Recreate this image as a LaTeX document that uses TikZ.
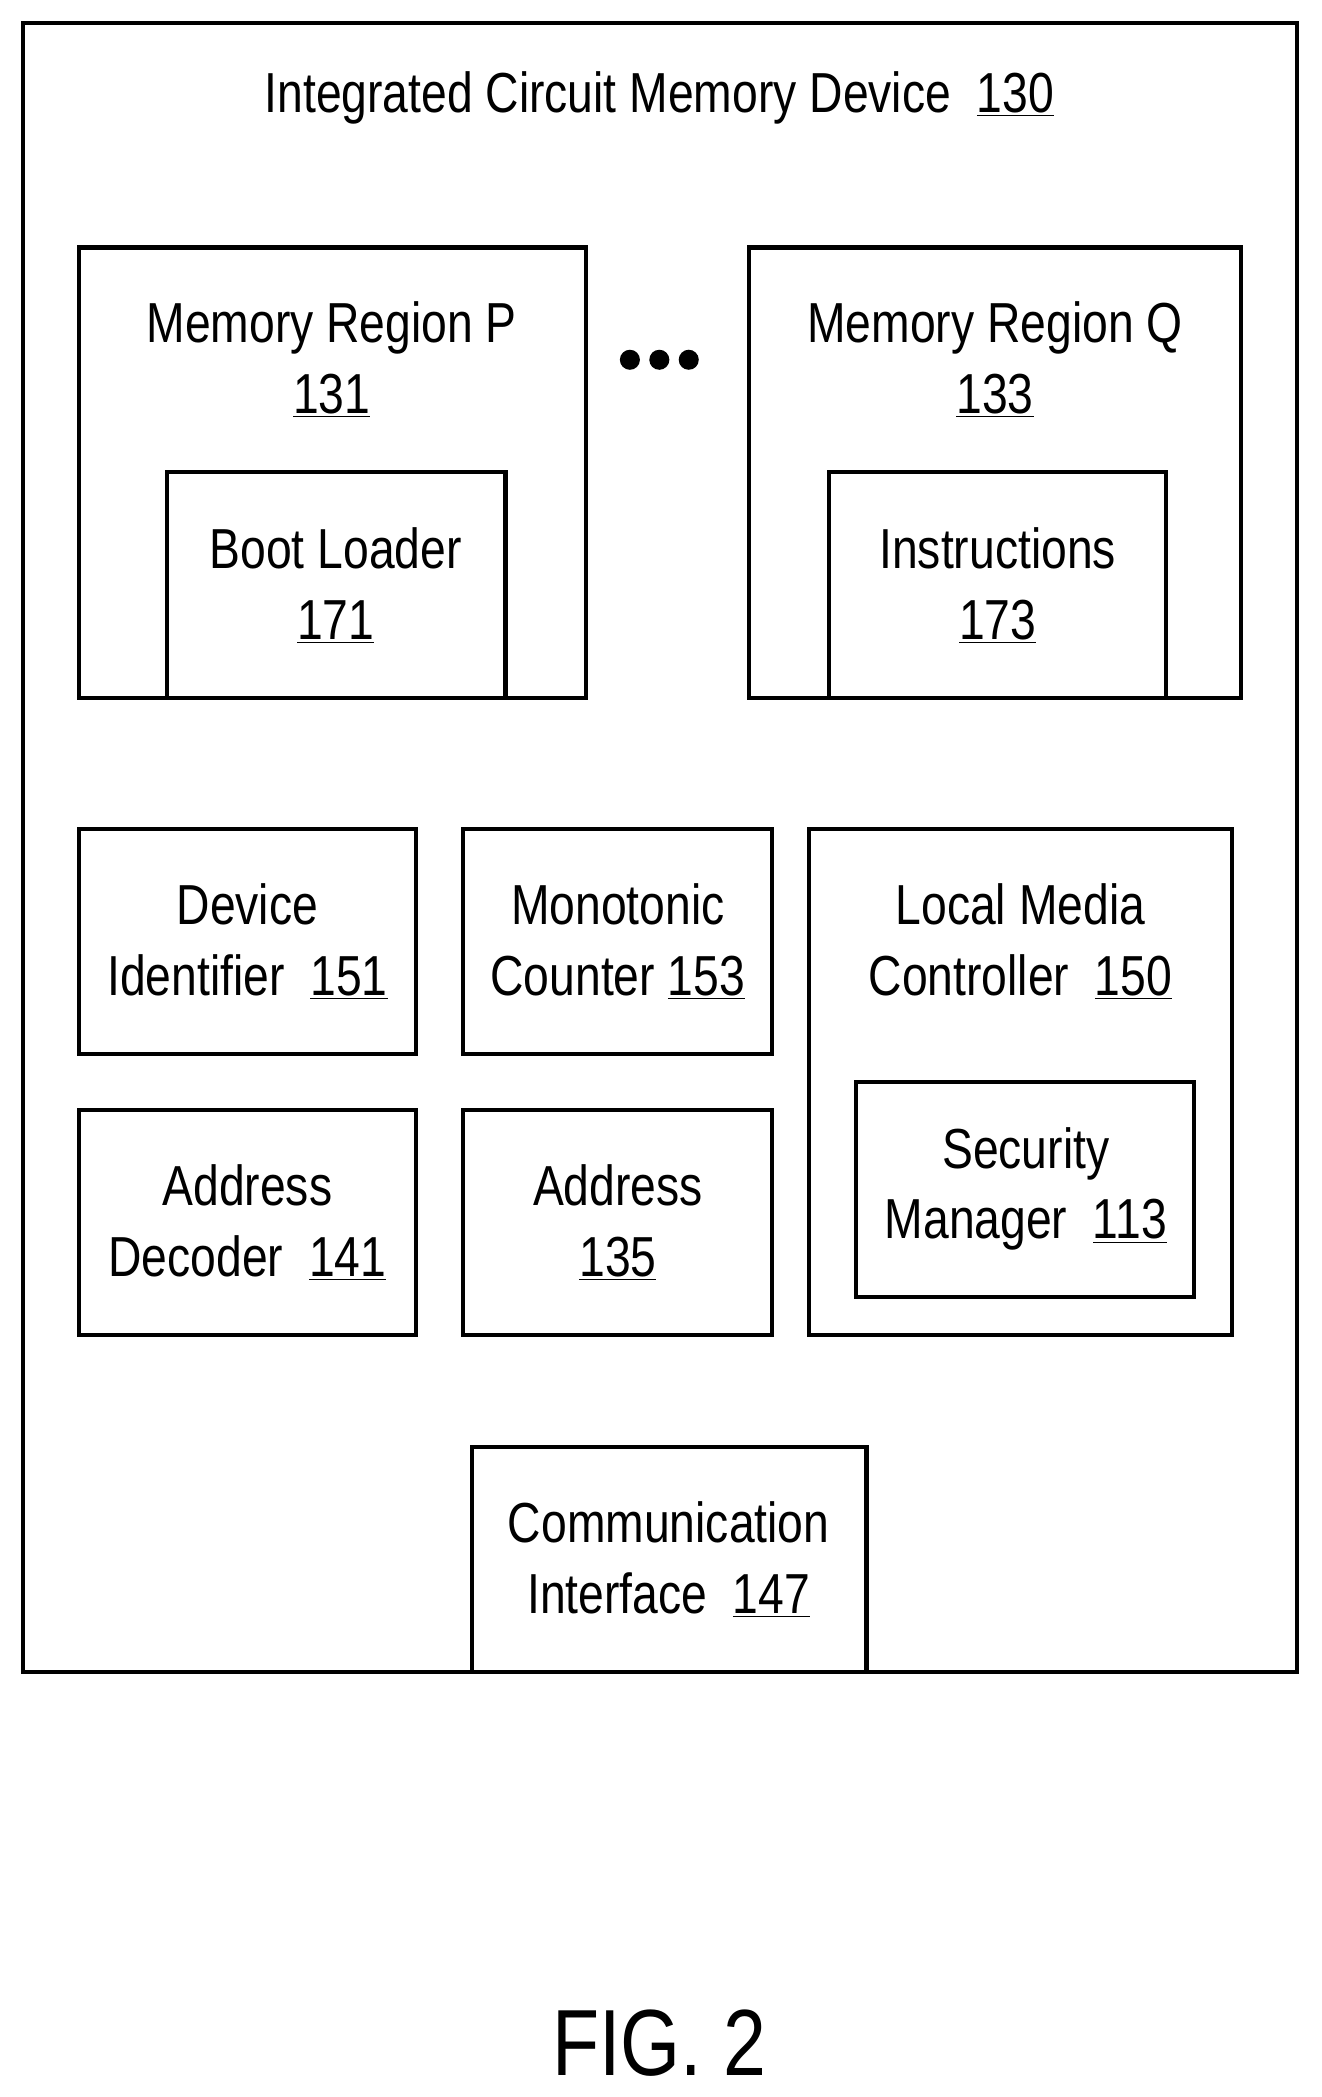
\documentclass[tikz,border=0pt]{standalone}
\usepackage{fontspec}
\setmainfont{Liberation Sans}[FakeStretch=0.82]
\newcommand{\un}[1]{\underline{#1}}
\begin{document}
\begin{tikzpicture}[x=0.025cm,y=-0.025cm,
  txt/.style={align=center,inner sep=0pt,font=\fontsize{30}{37.7}\selectfont}]
\useasboundingbox (0,0) rectangle (988,1568);
\draw[line width=2.3pt] (17,17) rectangle (970,1250);
\node[txt] (title) at (493,73) {Integrated Circuit Memory Device\ \ \un{130}};
% regions
\draw[line width=2.3pt] (59,185) rectangle (438,522);
\node[txt] (rp) at (248,269) {Memory Region P\\\un{131}};
\draw[line width=2.3pt] (125,522) |- (378,353) -- (378,522);
\node[txt] (bl) at (251,438) {Boot Loader\\\un{171}};
\draw[line width=2.3pt] (560,185) rectangle (928,522);
\node[txt] (rq) at (744,269) {Memory Region Q\\\un{133}};
\draw[line width=2.3pt] (620,522) |- (872,353) -- (872,522);
\node[txt] (ins) at (746,438) {Instructions\\\un{173}};
\foreach \x in {471,493,515} \fill (\x,269) circle (7.5);
% middle
\draw[line width=2.3pt] (59,620) rectangle (311,788);
\node[txt] (di) at (185,704) {Device\\Identifier\ \ \un{151}};
\draw[line width=2.3pt] (346,620) rectangle (577,788);
\node[txt] (mc) at (462,704) {Monotonic\\Counter \un{153}};
\draw[line width=2.3pt] (605,620) rectangle (921,998);
\node[txt] (lmc) at (763,704) {Local Media\\Controller\ \ \un{150}};
\draw[line width=2.3pt] (640,809) rectangle (893,970);
\node[txt] (sm) at (767,889) {Security\\Manager\ \ \un{113}};
\draw[line width=2.3pt] (59,830) rectangle (311,998);
\node[txt] (ad) at (185,914) {Address\\Decoder\ \ \un{141}};
\draw[line width=2.3pt] (346,830) rectangle (577,998);
\node[txt] (a) at (462,914) {Address\\\un{135}};
\draw[line width=2.3pt] (353,1250) |- (648,1082) -- (648,1250);
\node[txt] (ci) at (500,1166) {Communication\\Interface\ \ \un{147}};
\node[inner sep=0pt,font=\fontsize{50}{60}\selectfont] (fig) at (493,1528) {FIG. 2};
\end{tikzpicture}
\end{document}
